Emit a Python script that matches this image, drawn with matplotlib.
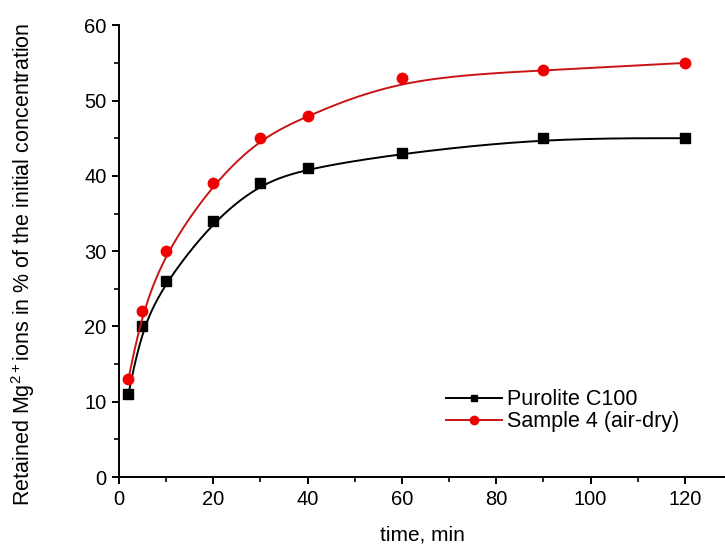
import numpy as np
import matplotlib.pyplot as plt

plt.rcParams['font.family'] = ['Liberation Sans', 'DejaVu Sans']
plt.rcParams['mathtext.fontset'] = 'custom'
plt.rcParams['mathtext.rm'] = 'Liberation Sans'

time_min = [2, 5, 10, 20, 30, 40, 60, 90, 120]
purolite = [11, 20, 26, 34, 39, 41, 43, 45, 45]
sample4 = [13, 22, 30, 39, 45, 48, 53, 54, 55]


def bspline(xs, ys, n=40):
    # cubic B-spline using the data points as control points (ends clamped)
    px = np.r_[[xs[0]] * 2, xs, [xs[-1]] * 2].astype(float)
    py = np.r_[[ys[0]] * 2, ys, [ys[-1]] * 2].astype(float)
    t = np.linspace(0, 1, n)
    b0 = (1 - t) ** 3 / 6
    b1 = (3 * t ** 3 - 6 * t ** 2 + 4) / 6
    b2 = (-3 * t ** 3 + 3 * t ** 2 + 3 * t + 1) / 6
    b3 = t ** 3 / 6
    cx, cy = [], []
    for i in range(len(px) - 3):
        cx.append(b0 * px[i] + b1 * px[i + 1] + b2 * px[i + 2] + b3 * px[i + 3])
        cy.append(b0 * py[i] + b1 * py[i + 1] + b2 * py[i + 2] + b3 * py[i + 3])
    return np.concatenate(cx), np.concatenate(cy)


fig = plt.figure(figsize=(7.25, 5.49), dpi=100)
ax = fig.add_axes([0.164, 0.131, 0.836, 0.823])

for ys, lc, mc, mk, ms, lab in [(purolite, 'black', 'black', 's', 6.5, 'Purolite C100'),
                                (sample4, '#c81414', '#f00000', 'o', 7.5, 'Sample 4 (air-dry)')]:
    sx, sy = bspline(time_min, ys)
    ax.plot(sx, sy, color=lc, lw=1.4)
    ax.plot(time_min, ys, ls='none', marker=mk, ms=ms, color=mc)
    ax.plot([], [], color=lc, lw=1.4, marker=mk, ms=ms - 1.5, mfc=mc, mec=mc, label=lab)

ax.set_xlim(0, 128.5)
ax.set_ylim(0, 60)
ax.set_xticks(range(0, 121, 20))
ax.set_xticks(range(10, 121, 20), minor=True)
ax.set_yticks(range(0, 61, 10))
ax.set_yticks(range(5, 60, 10), minor=True)
for s in ['top', 'right']:
    ax.spines[s].set_visible(False)
for s in ['left', 'bottom']:
    ax.spines[s].set_linewidth(1.4)
ax.tick_params(which='major', direction='out', length=5, width=1.4, labelsize=14.5, pad=4)
ax.tick_params(which='minor', direction='out', length=3.5, width=1.2)

ax.set_xlabel('time, min', fontsize=15, labelpad=12)
ax.set_ylabel('Retained Mg$^{2+}$ions in % of the initial concentration', fontsize=15.5, labelpad=12)
ax.yaxis.set_label_coords(-0.135, 0.47)

ax.legend(loc='lower left', bbox_to_anchor=(0.525, 0.08), frameon=False, fontsize=15.5,
          handlelength=2.6, handletextpad=0.25, labelspacing=0.05, borderaxespad=0)

fig.savefig('out.png', dpi=100)
